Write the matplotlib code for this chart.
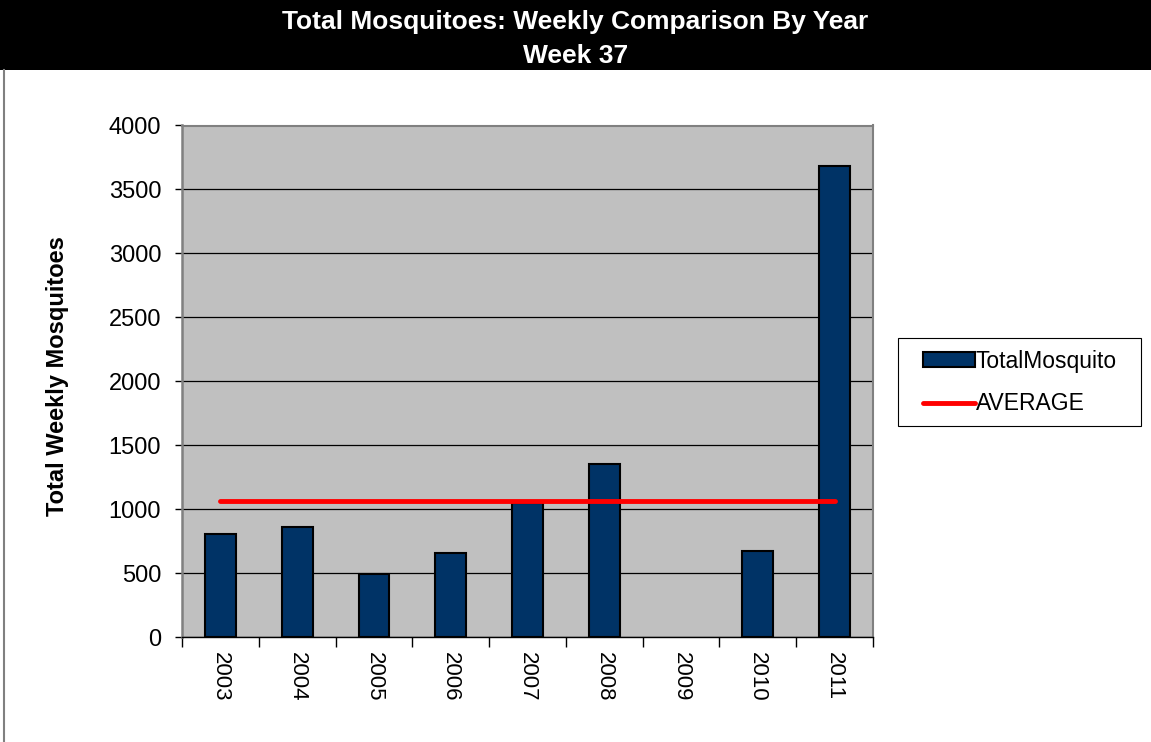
import matplotlib.pyplot as plt
from matplotlib.patches import Rectangle
from matplotlib.lines import Line2D
import numpy as np

plt.rcParams['font.family'] = ['Liberation Sans', 'DejaVu Sans']

# data
years = ['2003', '2004', '2005', '2006', '2007', '2008', '2009', '2010', '2011']
total_mosquito = [807, 862, 492, 656, 1047, 1349, 0, 676, 3680]
average = [1063] * len(years)

W, H = 1151, 742
fig = plt.figure(figsize=(W / 100, H / 100), dpi=100)
fig.patch.set_facecolor('white')

# black title band
fig.patches.append(Rectangle((0, 1 - 70 / H), 1, 70 / H, transform=fig.transFigure,
                             facecolor='black', edgecolor='none', zorder=0))
fig.text(0.5, 1 - 22 / H, 'Total Mosquitoes: Weekly Comparison By Year', color='white',
         fontsize=19, fontweight='bold', ha='center', va='center')
fig.text(0.5, 1 - 56 / H, 'Week 37', color='white',
         fontsize=19, fontweight='bold', ha='center', va='center')
# left border of chart area
fig.add_artist(Line2D([4 / W, 4 / W], [0, 1 - 70 / H], transform=fig.transFigure,
                      color='#808080', lw=1.5))

ax = fig.add_axes([182 / W, 1 - 637 / H, (873 - 182) / W, (637 - 125.5) / H])
ax.set_facecolor('#C0C0C0')

x = np.arange(len(years))
edge_w = [1.5 if v > 0 else 0 for v in total_mosquito]
bars = ax.bar(x, total_mosquito, width=0.4, color='#003366', edgecolor='black',
              linewidth=edge_w, zorder=3)
line, = ax.plot(x, average, color='#FF0000', lw=3.5, solid_capstyle='round', zorder=4)

ax.set_xlim(-0.5, len(years) - 0.5)
ax.set_ylim(0, 4000)
ax.set_yticks(np.arange(0, 4001, 500))
ax.yaxis.grid(True, color='black', lw=0.9, zorder=1)
ax.set_axisbelow(True)
ax.tick_params(axis='y', labelsize=17, length=5, width=1, color='black', pad=10)

ax.set_xticks(x)
ax.set_xticklabels(years, rotation=-90, fontsize=16)
ax.tick_params(axis='x', which='major', length=0, pad=11)
ax.set_xticks(np.arange(-0.5, len(years), 1), minor=True)
ax.tick_params(axis='x', which='minor', length=7, width=1, color='black')

for side in ['top', 'right']:
    ax.spines[side].set_color('#808080')
    ax.spines[side].set_linewidth(1.5)
ax.spines['left'].set_color('#808080')
ax.spines['left'].set_linewidth(1.8)
ax.spines['bottom'].set_color('black')
ax.spines['bottom'].set_linewidth(1)

ax.set_ylabel('Total Weekly Mosquitoes', fontsize=17, fontweight='bold')
ax.yaxis.set_label_coords(-0.163, 0.51)

# legend box drawn by hand, entries from a frameless legend
fig.patches.append(Rectangle((898 / W, 1 - 426 / H), (1141 - 898) / W, (426 - 338) / H,
                             transform=fig.transFigure, facecolor='white',
                             edgecolor='black', linewidth=0.8, zorder=1))
leg_bar = Rectangle((0, 0), 1, 1, facecolor='#003366', edgecolor='black', linewidth=1.5)
leg_line = Line2D([], [], color='#FF0000', lw=3.5, solid_capstyle='round')
leg = fig.legend([leg_bar, leg_line], ['TotalMosquito', 'AVERAGE'], loc='center left',
                 bbox_to_anchor=(923 / W, 1 - 382.5 / H), fontsize=16.5,
                 frameon=False, borderpad=0, labelspacing=0.85, handlelength=2.25,
                 handleheight=0.6, handletextpad=0.05, borderaxespad=0)

fig.savefig('out.png', dpi=100)
